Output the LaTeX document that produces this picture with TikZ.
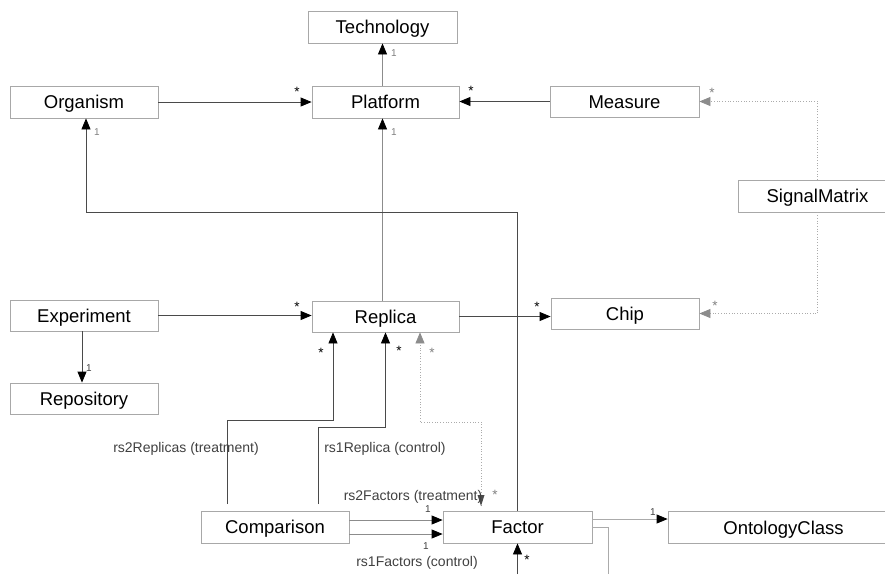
\documentclass[tikz,border=0pt]{standalone}
\usepackage{fontspec}
\setmainfont{Liberation Sans}
\usetikzlibrary{arrows.meta}
\definecolor{boxgray}{HTML}{A8A8A8}
\definecolor{darkline}{HTML}{4A4A4A}
\definecolor{midline}{HTML}{8C8C8C}
\definecolor{lightline}{HTML}{ABABAB}
\definecolor{labtext}{HTML}{404040}
\begin{document}
\begin{tikzpicture}[x=1pt,y=-1pt,
  cls/.style={draw=boxgray, line width=0.8pt, minimum height=32pt, inner sep=0pt,
    text height=13.2pt, text depth=0pt,
    font=\fontsize{18.5}{20}\selectfont},
  arr/.style={-{Triangle[length=11pt,width=9pt,color=black]}},
  garr/.style={-{Triangle[length=11pt,width=9pt,color=midline]}},
  dline/.style={draw=darkline, line width=0.8pt},
  mline/.style={draw=midline, line width=0.8pt},
  lline/.style={draw=lightline, line width=0.8pt},
  dotl/.style={draw=lightline, line width=0.7pt, dotted},
  multb/.style={font=\fontsize{13.5}{13}\selectfont, text=black, inner sep=0pt},
  multg/.style={font=\fontsize{13.5}{13}\selectfont, text=gray, inner sep=0pt},
  oneg/.style={font=\fontsize{10}{10}\selectfont, text=gray, inner sep=0pt},
  oned/.style={font=\fontsize{10}{10}\selectfont, text=labtext, inner sep=0pt},
  rlab/.style={font=\fontsize{14}{14}\selectfont, text=labtext, inner sep=0pt}]
\useasboundingbox (0,0) rectangle (885,574);

% classes
\node[cls, minimum width=149pt] (Technology) at (382.5,27) {Technology};
\node[cls, minimum width=148pt] (Organism) at (84,102) {Organism};
\node[cls, minimum width=147pt] (Platform) at (385.5,102) {Platform};
\node[cls, minimum width=149pt, minimum height=31pt] (Measure) at (624.5,101.5) {Measure};
\node[cls, minimum width=159pt] (SignalMatrix) at (817.5,196) {SignalMatrix};
\node[cls, minimum width=148pt, minimum height=31pt] (Experiment) at (84,315.5) {Experiment};
\node[cls, minimum width=147pt, minimum height=31pt] (Replica) at (385.5,316.5) {Replica};
\node[cls, minimum width=148pt, minimum height=31pt] (Chip) at (625,313.5) {Chip};
\node[cls, minimum width=148pt, minimum height=31pt] (Repository) at (84,398.5) {Repository};
\node[cls, minimum width=148pt] (Comparison) at (275,527) {Comparison};
\node[cls, minimum width=149pt] (Factor) at (517.5,527) {Factor};
\node[cls, minimum width=231pt] (OntologyClass) at (783.5,527.5) {OntologyClass};

% helper coordinates
\coordinate (fo1) at (517.5,212);
\coordinate (fo2) at (86,212);
\coordinate (r2s) at (227,504);
\coordinate (r2a) at (227,420);
\coordinate (r2b) at (333,420);
\coordinate (r1s) at (318,504);
\coordinate (r1a) at (318,427);
\coordinate (r1b) at (385.5,427);
\coordinate (dts) at (481,506);
\coordinate (dta) at (481,422);
\coordinate (dtb) at (420,422);
\coordinate (fr1) at (608,527);
\coordinate (fr2) at (608,574);
\coordinate (fb) at (517.5,574);

% connectors
\draw[mline,arr] (Technology.south |- Platform.north) -- (Technology.south);
\draw[mline,arr] (Technology.south |- Replica.north) -- (Technology.south |- Platform.south);
\draw[dline,arr] (Organism.east) -- (Platform.west);
\draw[dline,arr] (Measure.west) -- (Measure.west -| Platform.east);
\draw[dotl,garr] (SignalMatrix.north) |- (Measure.east);
\draw[dotl,garr] (SignalMatrix.south) |- (Chip.east);
\draw[dline,arr] (Factor.north) -- (fo1) -- (fo2) -- (fo2 |- Organism.south);
\draw[dline,arr] (Experiment.east) -- (Experiment.east -| Replica.west);
\draw[dline,arr] (Experiment.south -| 82,0) -- (Repository.north -| 82,0);
\draw[dline,arr] (Replica.east) -- (Replica.east -| Chip.west);
\draw[dline,arr] (r2s) -- (r2a) -- (r2b) -- (r2b |- Replica.south);
\draw[dline,arr] (r1s) -- (r1a) -- (r1b) -- (Replica.south);
\draw[dotl,garr] (dts) -- (dta) -- (dtb) -- (dtb |- Replica.south);
\fill[darkline] (481,506) -- (477.5,495) -- (484.5,495) -- cycle;
\draw[mline,arr] ([yshift=7pt]Comparison.east) -- ([yshift=7pt]Comparison.east -| Factor.west);
\draw[mline,arr] ([yshift=-7pt]Comparison.east) -- ([yshift=-7pt]Comparison.east -| Factor.west);
\draw[lline,arr] ([yshift=8pt]Factor.east) -- ([yshift=8pt]Factor.east -| OntologyClass.west);
\draw[lline] (Factor.east) -- (fr1) -- (fr2);
\draw[dline,arr] (fb) -- (Factor.south);

% multiplicities
\node[oneg] (m1) at (394,53) {1};
\node[oneg] (m2) at (394,132) {1};
\node[oneg] (m3) at (97,132) {1};
\node[multb] (m4) at (297,92) {*};
\node[multb] (m5) at (471,91) {*};
\node[multg] (m6) at (712,93) {*};
\node[multg] (m7) at (715,306) {*};
\node[multb] (m8) at (297,307) {*};
\node[multb] (m9) at (537,307) {*};
\node[oned] (m10) at (89,368) {1};
\node[multb] (m11) at (321,353) {*};
\node[multb] (m12) at (399,351) {*};
\node[multg] (m13) at (432,353) {*};
\node[multg] (m14) at (495,495) {*};
\node[oned] (m15) at (428,509) {1};
\node[oned] (m16) at (426,546) {1};
\node[oned] (m17) at (653,512) {1};
\node[multb] (m18) at (527,560) {*};

% role labels
\node[rlab] (l1) at (186,449) {rs2Replicas (treatment)};
\node[rlab] (l2) at (385,449) {rs1Replica (control)};
\node[rlab] (l3) at (413,497) {rs2Factors (treatment)};
\node[rlab] (l4) at (417,563) {rs1Factors (control)};
\end{tikzpicture}
\end{document}
